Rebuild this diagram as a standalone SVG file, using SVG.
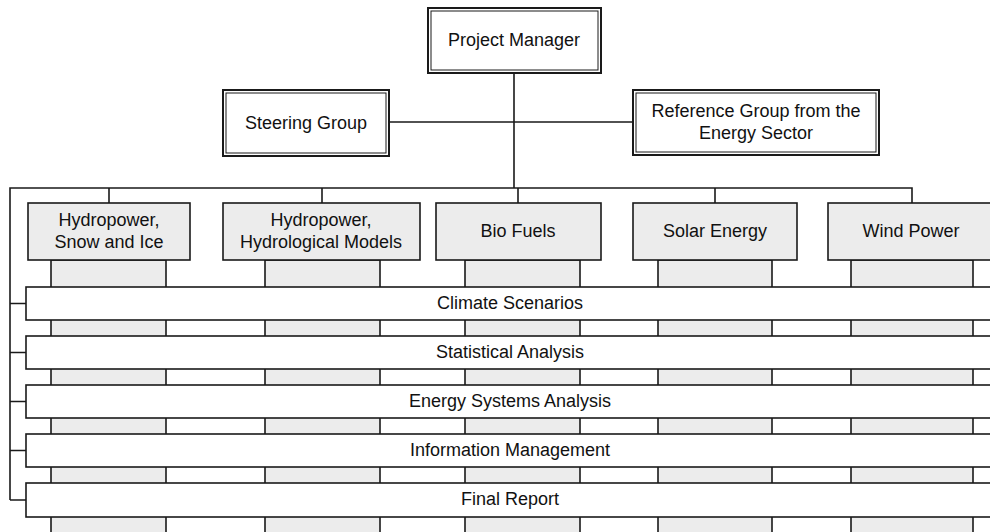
<svg xmlns="http://www.w3.org/2000/svg" width="990" height="532" viewBox="0 0 990 532">
<style>
.t{font-family:"Liberation Sans",Arial,sans-serif;font-size:18px;fill:#111;text-anchor:middle}
.ln{stroke:#1a1a1a;stroke-width:1.6;fill:none}
.dbo{fill:#fff;stroke:#1a1a1a;stroke-width:2}
.dbi{fill:none;stroke:#1a1a1a;stroke-width:1}
.cat{fill:#ececec;stroke:#1a1a1a;stroke-width:1.6}
.col{fill:#ececec;stroke:#1a1a1a;stroke-width:1.6}
.bar{fill:#fff;stroke:#1a1a1a;stroke-width:1.6}
</style>
<rect width="990" height="532" fill="#fff"/>
<g id="connectors">
<path class="ln" d="M514 73V188M389 122H633"/>
<path class="ln" d="M10 500V188H912V203M109 188V203M322 188V203M518 188V203M715 188V203"/>
<path class="ln" d="M10 303.5H26M10 352.5H26M10 401.5H26M10 450.5H26M10 500H26"/>
</g>
<g id="columns">
<rect class="col" x="51" y="260" width="115" height="290"/>
<rect class="col" x="265" y="260" width="115" height="290"/>
<rect class="col" x="465" y="260" width="115" height="290"/>
<rect class="col" x="658" y="260" width="114" height="290"/>
<rect class="col" x="851" y="260" width="122" height="290"/>
</g>
<g id="project-manager">
<rect class="dbo" x="428" y="8" width="173" height="65"/>
<rect class="dbi" x="431" y="11" width="167" height="59"/>
<text class="t" x="514" y="46">Project Manager</text>
</g>
<g id="steering-group">
<rect class="dbo" x="223" y="90" width="166" height="66"/>
<rect class="dbi" x="226" y="93" width="160" height="60"/>
<text class="t" x="306" y="129">Steering Group</text>
</g>
<g id="reference-group">
<rect class="dbo" x="633" y="90" width="246" height="65"/>
<rect class="dbi" x="636" y="93" width="240" height="59"/>
<text class="t" x="756" y="117">Reference Group from the</text>
<text class="t" x="756" y="139">Energy Sector</text>
</g>
<g id="hydropower-snow">
<rect class="cat" x="28" y="203" width="162" height="57"/>
<text class="t" x="109" y="226">Hydropower,</text>
<text class="t" x="109" y="248">Snow and Ice</text>
</g>
<g id="hydropower-models">
<rect class="cat" x="223" y="203" width="197" height="57"/>
<text class="t" x="321" y="226">Hydropower,</text>
<text class="t" x="321" y="248">Hydrological Models</text>
</g>
<g id="bio-fuels">
<rect class="cat" x="436" y="203" width="165" height="57"/>
<text class="t" x="518" y="237">Bio Fuels</text>
</g>
<g id="solar-energy">
<rect class="cat" x="633" y="203" width="164" height="57"/>
<text class="t" x="715" y="237">Solar Energy</text>
</g>
<g id="wind-power">
<rect class="cat" x="828" y="203" width="166" height="57"/>
<text class="t" x="911" y="237">Wind Power</text>
</g>
<g id="climate-scenarios">
<rect class="bar" x="26" y="287" width="968" height="33"/>
<text class="t" x="510" y="309">Climate Scenarios</text>
</g>
<g id="statistical-analysis">
<rect class="bar" x="26" y="336" width="968" height="33"/>
<text class="t" x="510" y="358">Statistical Analysis</text>
</g>
<g id="energy-systems-analysis">
<rect class="bar" x="26" y="385" width="968" height="33"/>
<text class="t" x="510" y="407">Energy Systems Analysis</text>
</g>
<g id="information-management">
<rect class="bar" x="26" y="434" width="968" height="33"/>
<text class="t" x="510" y="456">Information Management</text>
</g>
<g id="final-report">
<rect class="bar" x="26" y="483" width="968" height="34"/>
<text class="t" x="510" y="505">Final Report</text>
</g>
</svg>
